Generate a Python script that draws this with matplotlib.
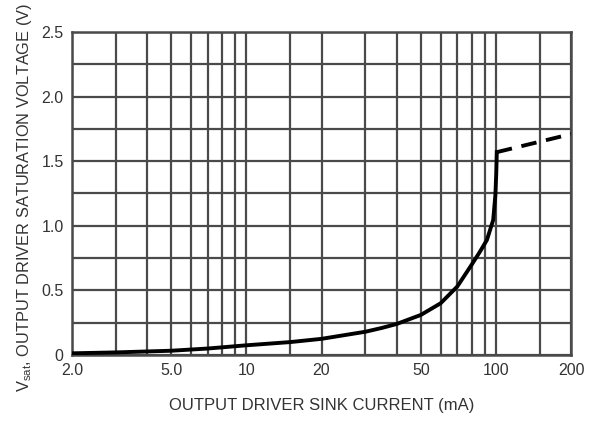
import numpy as np
import matplotlib.pyplot as plt

plt.rcParams['font.family'] = ['Liberation Sans', 'DejaVu Sans']
plt.rcParams['mathtext.fontset'] = 'custom'
plt.rcParams['mathtext.rm'] = 'Liberation Sans'

# measured curve (sink current in mA, Vsat in V)
current = [2, 3, 5, 7, 10, 15, 20, 30, 35, 40, 50, 60, 70, 80, 86, 92,
           97.5, 99.5, 100.3, 100.8]
vsat = [0.013, 0.02, 0.033, 0.05, 0.075, 0.10, 0.125, 0.18, 0.21, 0.24,
        0.31, 0.40, 0.53, 0.70, 0.795, 0.89, 1.045, 1.24, 1.41, 1.57]

# dashed extension above 100 mA
current_ext = [100.8, 200]
vsat_ext = [1.57, 1.71]

xgrid = [2, 3, 4, 5, 6, 7, 8, 9, 10, 15, 20, 30, 40, 50, 60, 70, 80, 90, 100, 150, 200]
ygrid = np.arange(0, 2.51, 0.25)
xticks = [2, 5, 10, 20, 50, 100, 200]
xticklabels = ['2.0', '5.0', '10', '20', '50', '100', '200']
yticks = [0, 0.5, 1.0, 1.5, 2.0, 2.5]
yticklabels = ['0', '0.5', '1.0', '1.5', '2.0', '2.5']

fig = plt.figure(figsize=(5.93, 4.21), dpi=100)
ax = fig.add_axes([0.1214, 0.1568, 0.8416, 0.7672])

gc = '#4a4a4a'
for xv in xgrid:
    ax.axvline(xv, color=gc, lw=1.6, zorder=1)
for yv in ygrid:
    ax.axhline(yv, color=gc, lw=1.6, zorder=1)

ax.plot(current, vsat, color='black', lw=2.8, zorder=3, solid_joinstyle='round')
ax.plot(current_ext, vsat_ext, color='black', lw=2.8, ls=(0, (4, 2.5)), zorder=3)

ax.set_xscale('log')
ax.set_xlim(2, 200)
ax.set_ylim(0, 2.5)
ax.set_xticks(xticks)
ax.set_xticklabels(xticklabels)
ax.minorticks_off()
ax.set_yticks(yticks)
ax.set_yticklabels(yticklabels)
ax.tick_params(length=0, labelsize=11.5, colors='#333333', pad=6)
for s in ax.spines.values():
    s.set_color(gc)
    s.set_linewidth(1.8)

ax.set_xlabel('OUTPUT DRIVER SINK CURRENT (mA)', fontsize=12, color='#333333', labelpad=14)
fig.text(25 / 593, (421 - 392) / 421,
         r'$\mathregular{V_{sat}}$, OUTPUT DRIVER SATURATION VOLTAGE (V)',
         rotation=90, ha='center', va='bottom', fontsize=11.8, color='#333333')

fig.savefig('out.png', dpi=100)
